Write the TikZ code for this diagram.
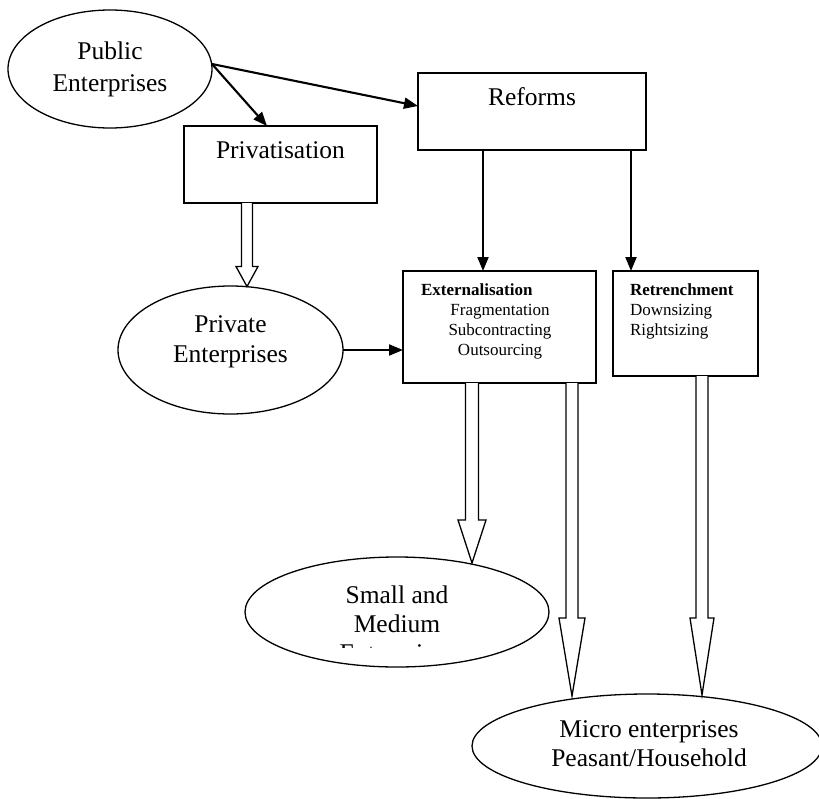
\documentclass[tikz,border=0pt]{standalone}
\usepackage{fontspec}
\setmainfont{Liberation Serif}
\usetikzlibrary{shapes.geometric,arrows.meta,calc}

\tikzset{
  every node/.style={inner sep=0pt, outer sep=0pt},
  oval/.style={draw, ellipse, line width=1.3pt},
  panel/.style={draw, rectangle, line width=1.4pt},
  bigtext/.style={font=\fontsize{25.5}{30}\selectfont, align=center},
  smalltext/.style={font=\fontsize{17}{20}\selectfont},
  link/.style={line width=2.1pt, -{Triangle[length=14pt,width=11pt]}},
  hollow/.style={draw, line width=1.3pt, fill=white, line join=miter},
}

% open-topped block arrow: #1 start, #2 tip, #3 shaft half width,
% #4 head half width, #5 head length
\newcommand{\hollowarrow}[5]{%
  \path[hollow] ($(#1)+(-#3,0)$) -- ($(#2)+(-#3,-#5)$) -- ($(#2)+(-#4,-#5)$)
    -- (#2) -- ($(#2)+(#4,-#5)$) -- ($(#2)+(#3,-#5)$) -- ($(#1)+(#3,0)$);}

\begin{document}
\begin{tikzpicture}[x=1pt,y=-1pt]
\useasboundingbox (0,0) rectangle (819,798);

% ellipses
\node[oval, minimum width=204pt, minimum height=118pt] (pub) at (110,69) {};
\node[oval, minimum width=225pt, minimum height=128pt] (pe) at (230.5,350) {};
\node[oval, minimum width=304pt, minimum height=110pt] (sme) at (397,612) {};
\node[oval, minimum width=350pt, minimum height=104pt] (me) at (647,746) {};

% boxes
\node[panel, minimum width=193pt, minimum height=77pt] (priv) at (280.5,164.5) {};
\node[panel, minimum width=228pt, minimum height=77pt] (ref) at (532,111.5) {};
\node[panel, minimum width=193pt, minimum height=112pt] (ext) at (499.5,327) {};
\node[panel, minimum width=145pt, minimum height=105pt] (ret) at (685.5,323.5) {};

% labels
\node[bigtext, font=\fontsize{25.5}{32}\selectfont] (pubT) at (pub.center) {Public\\Enterprises};
\node[bigtext, anchor=base] (peT1) at (230.5,332) {Private};
\node[bigtext, anchor=base] (peT2) at (230.5,362) {Enterprises};
\node[bigtext, anchor=base] (privT) at (280.5,158) {Privatisation};
\node[bigtext, anchor=base] (refT) at (532,105) {Reforms};
\node[bigtext, anchor=base] (smeT1) at (397,603) {Small and};
\node[bigtext, anchor=base] (smeT2) at (397,632) {Medium};
\begin{scope}
  \clip (0,0) rectangle (819,647);
  \node[bigtext, anchor=base] (smeT3) at (397,661) {Enterprises};
\end{scope}
\node[bigtext, anchor=base] (meT1) at (649,737) {Micro enterprises};
\node[bigtext, anchor=base] (meT2) at (649,766) {Peasant/Household};

\node[smalltext, anchor=base west, font=\fontsize{17}{20}\selectfont\bfseries] (extT0) at (421,295) {Externalisation};
\node[smalltext, anchor=base] (extT1) at (500,315) {Fragmentation};
\node[smalltext, anchor=base] (extT2) at (500,335) {Subcontracting};
\node[smalltext, anchor=base] (extT3) at (500,355) {Outsourcing};

\node[smalltext, anchor=base west, font=\fontsize{17}{20}\selectfont\bfseries] (retT0) at (630,295) {Retrenchment};
\node[smalltext, anchor=base west] (retT1) at (630,315) {Downsizing};
\node[smalltext, anchor=base west] (retT2) at (630,335) {Rightsizing};

% line arrows
\draw[link] ([yshift=5pt]pub.east) -- ([xshift=-13.5pt]priv.north);
\draw[link] ([yshift=5pt]pub.east) -- ([yshift=5.5pt]ref.west);
\draw[link] ([xshift=-49pt]ref.south) -- ([xshift=-49pt]ref.south |- ext.north);
\draw[link] ([xshift=99pt]ref.south) -- ([xshift=99pt]ref.south |- ret.north);
\draw[link] (pe.east) -- (pe.east -| ext.west);

% block arrows
\coordinate (t1) at (247,286.5);
\coordinate (t2) at (472,563);
\coordinate (t3) at (572,696);
\coordinate (t4) at (702,695);
\coordinate (s1) at (priv.south -| t1);
\coordinate (s2) at (ext.south -| t2);
\coordinate (s3) at (ext.south -| t3);
\coordinate (s4) at (ret.south -| t4);
\hollowarrow{s1}{t1}{5.5}{11}{20}
\hollowarrow{s2}{t2}{6.5}{14}{43}
\hollowarrow{s3}{t3}{6}{13}{78}
\hollowarrow{s4}{t4}{6}{12}{77}
\end{tikzpicture}
\end{document}
